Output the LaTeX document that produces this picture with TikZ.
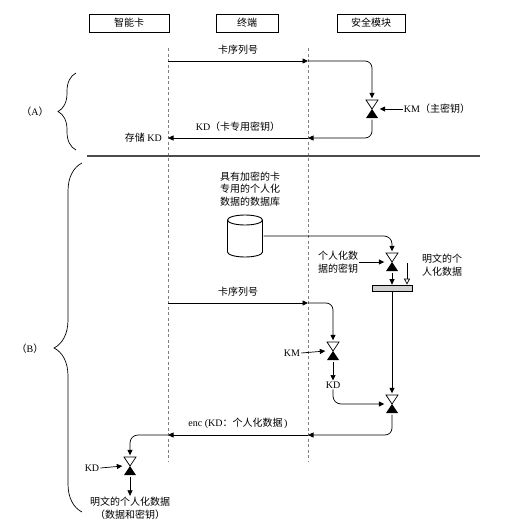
\documentclass[tikz,border=0pt]{standalone}
\usepackage{fontspec}
\setmainfont{Liberation Serif}
\newfontfamily\cjk{Noto Sans CJK SC}
\usetikzlibrary{arrows.meta, positioning, calc, shapes.geometric, decorations.pathreplacing}

\begin{document}
\begin{tikzpicture}[
  x=1pt, y=-1pt,
  font=\fontsize{10}{12.5}\selectfont,
  headBox/.style={rectangle, draw, line width=1pt, minimum width=80pt, minimum height=18pt, inner sep=1pt},
  lifeLine/.style={draw=gray, line width=0.6pt, dash pattern=on 3pt off 2.5pt},
  msg/.style={draw, line width=0.7pt, -{Triangle[length=5.5pt, width=5pt]}},
  openMsg/.style={draw, line width=0.7pt, -{Triangle[open, length=6pt, width=6pt]}},
  lbl/.style={inner sep=1pt, align=center},
  valveNode/.style={rectangle, minimum width=15pt, minimum height=21pt, inner sep=0pt,
    path picture={
      \draw[line width=0.7pt] ([shift={(-6pt,9pt)}]path picture bounding box.center) -- ([shift={(6pt,9pt)}]path picture bounding box.center) -- (path picture bounding box.center) -- cycle;
      \fill ([shift={(-6pt,-9pt)}]path picture bounding box.center) -- ([shift={(6pt,-9pt)}]path picture bounding box.center) -- (path picture bounding box.center) -- cycle;
    }},
  dbCyl/.style={rectangle, minimum width=37pt, minimum height=44pt, inner sep=0pt,
    path picture={
      \draw[line width=0.9pt] ([shift={(0pt,16pt)}]path picture bounding box.center) ellipse [x radius=17.5pt, y radius=5pt];
      \draw[line width=0.9pt] ([shift={(-17.5pt,16pt)}]path picture bounding box.center) -- ([shift={(-17.5pt,-16pt)}]path picture bounding box.center)
        arc [start angle=180, end angle=360, x radius=17.5pt, y radius=5pt] -- ([shift={(17.5pt,16pt)}]path picture bounding box.center);
    }},
  barNode/.style={rectangle, draw, line width=0.7pt, fill=gray!35, minimum width=40pt, minimum height=6pt, inner sep=0pt},
  braceLine/.style={draw, line width=0.7pt, decorate, decoration={brace, amplitude=#1}}
]
\useasboundingbox (0,0) rectangle (510,530);

% headings and lifelines
\node[headBox] (card) at (129,23) {\cjk 智能卡};
\node[headBox, minimum width=62pt] (term) at (247,23) {\cjk 终端};
\node[headBox, minimum width=68pt] (sam) at (371,23) {\cjk 安全模块};
\coordinate (cardTop) at (168,48);
\coordinate (cardBot) at (168,462);
\coordinate (termTop) at (308,48);
\coordinate (termBot) at (308,462);
\draw[lifeLine] (cardTop) -- (cardBot);
\draw[lifeLine] (termTop) -- (termBot);

% (A) deriving KD
\coordinate (a1) at (168,61);
\coordinate (a2) at (308,61);
\coordinate (a3) at (308,138);
\coordinate (a4) at (168,138);
\node[valveNode] (vA) at (372,109) {};
\node[lbl, right=23pt of vA] (kmA) {KM{\cjk （主密钥）}};
\draw[msg] (a1) -- node[above=3pt] {\cjk 卡序列号} (a2);
\draw[msg, rounded corners=7pt] (a2) -| (vA.north);
\draw[msg] (kmA.west) -- (vA.east);
\draw[msg, rounded corners=7pt] (vA.south) |- (a3);
\draw[msg] (a3) -- node[above=3pt] {KD{\cjk （卡专用密钥）}} (a4);
\node[lbl, left=5pt of a4] (storeKD) {{\cjk 存储} KD};

\node[lbl] (labA) at (35,112) {{\cjk （}A{\cjk ）}};
\coordinate (brAbot) at (76,150);
\coordinate (brAtop) at (76,73);
\draw[braceLine=18pt] (brAbot) -- (brAtop);

% separator
\coordinate (sepL) at (87,156);
\coordinate (sepR) at (480,156);
\draw[gray!60!black, line width=1.1pt] (sepL) -- (sepR);

% (B) personalisation
\node[lbl] (dbText) at (250,189) {\cjk 具有加密的卡\\\cjk 专用的个人化\\\cjk 数据的数据库};
\node[dbCyl] (db) at (245,236) {};
\node[valveNode] (vP) at (392,262) {};
\draw[msg, rounded corners=8pt] (db.east) -| (vP.north);
\node[lbl, align=left] (pKey) at (338,262) {\cjk 个人化数\\\cjk 据的密钥};
\draw[msg] (pKey.east) -- (vP.west);
\node[barNode] (bar) at (392,288) {};
\draw[msg] (vP.south) -- (bar.north);
\coordinate (ptTop) at (407,263);
\draw[openMsg] (ptTop) -- (ptTop |- bar.north);
\node[lbl, align=left, anchor=west] (ptText) at (421,265) {\cjk 明文的个\\\cjk 人化数据};
\node[valveNode] (vF) at (392,404) {};
\draw[msg] (bar.south) -- (vF.north);

\coordinate (b1) at (168,303);
\coordinate (b2) at (308,303);
\node[valveNode] (vK) at (333,351) {};
\draw[msg] (b1) -- node[above=3pt] {\cjk 卡序列号} (b2);
\draw[msg, rounded corners=7pt] (b2) -| (vK.north);
\node[lbl] (kmB) at (292,353) {KM};
\draw[msg] (kmB.east) -- (vK.west);
\node[lbl] (kdB) at (333,385) {KD};
\draw[msg] (vK.south) -- (kdB.north);
\draw[msg, rounded corners=8pt] (kdB.south) |- (vF.west);

\coordinate (b3) at (308,435);
\coordinate (b4) at (168,435);
\draw[msg, rounded corners=7pt] (vF.south) |- (b3);
\draw[msg] (b3) -- node[above=3pt] {enc (KD{\cjk ：个人化数据}\,)} (b4);
\node[valveNode] (vC) at (130,466) {};
\draw[msg, rounded corners=8pt] (b4) -| (vC.north);
\node[lbl] (kdC) at (92,468) {KD};
\draw[msg] (kdC.east) -- (vC.west);
\node[lbl] (ptOut) at (130,508) {\cjk 明文的个人化数据\\\cjk （数据和密钥）};
\draw[msg] (vC.south) -- (ptOut.north);

\node[lbl] (labB) at (30,349) {{\cjk （}B{\cjk ）}};
\coordinate (brBbot) at (82,512);
\coordinate (brBtop) at (82,163);
\draw[braceLine=28pt, decoration={aspect=0.47}] (brBbot) -- (brBtop);
\end{tikzpicture}
\end{document}
